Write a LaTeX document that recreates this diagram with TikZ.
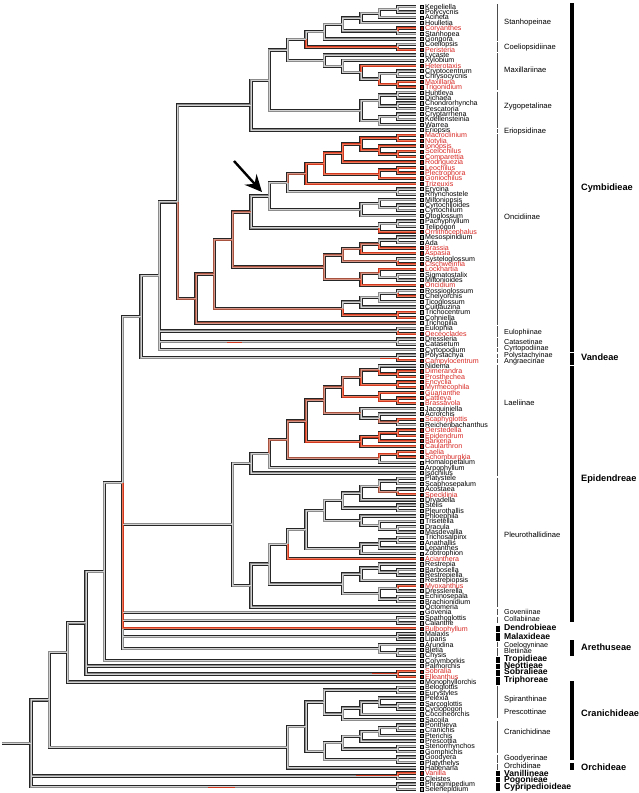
\documentclass[tikz,border=0pt]{standalone}
\usepackage{fontspec}
\setmainfont{Liberation Sans}
\usetikzlibrary{calc,arrows.meta}
\definecolor{cg}{RGB}{140,140,140}
\definecolor{hg}{RGB}{210,210,210}
\definecolor{cr}{RGB}{210,56,30}
\definecolor{hr}{RGB}{240,120,90}
\definecolor{cb}{RGB}{168,82,64}
\definecolor{hb}{RGB}{215,150,135}
\definecolor{txtred}{RGB}{215,40,35}
\definecolor{mkgray}{RGB}{160,160,160}
\definecolor{mkred}{RGB}{150,35,30}
\tikzset{
 outl/.style={line width=3.4pt,draw=black!85},
 inl/.style={line width=2.0pt},
 hil/.style={line width=0.7pt},
 cg/.style={draw=cg}, cr/.style={draw=cr}, cb/.style={draw=cb},
 hg/.style={draw=hg}, hr/.style={draw=hr}, hb/.style={draw=hb},
 mk/.style={draw=black,line width=0.4pt,minimum size=3.2pt,inner sep=0pt,rectangle},
 mkK/.style={mk,fill=mkgray}, mkR/.style={mk,fill=mkred},
 lt/.style={anchor=west,inner sep=0pt,font=\fontsize{7.1}{8}\selectfont,text height=5.1pt,text depth=0pt},
 ltK/.style={lt}, ltR/.style={lt,text=txtred},
 sub/.style={anchor=west,inner sep=0pt,font=\fontsize{7.6}{8}\selectfont,text height=5.4pt,text depth=0pt},
 subs/.style={anchor=west,inner sep=0pt,font=\fontsize{7.2}{8}\selectfont,text height=5.1pt,text depth=0pt},
 subb/.style={anchor=west,inner sep=0pt,font=\bfseries\fontsize{8.6}{9}\selectfont,text height=6.2pt,text depth=0pt},
 trb/.style={anchor=west,inner sep=0pt,font=\bfseries\fontsize{9.2}{10}\selectfont,text height=6.6pt,text depth=0pt},
 thinbar/.style={draw=black!70,line width=0.9pt},
 thickbar/.style={draw=black,line width=3.6pt},
 tribebar/.style={draw=black,line width=4pt},
 arrowst/.style={draw=black,line width=2.4pt,-{Stealth[length=17pt,width=16pt,inset=6pt]}}
}
\newcommand{\lf}[4]{%
 \pgfmathsetmacro{\ly}{6.7+5.36*(#2-1)}%
 \coordinate (#1) at (416,\ly);
 \node[mk#4] (#1m) at (422,\ly) {};
 \node[lt#4] (#1t) at (425,\ly) {#3};}
\newcommand{\nd}[4]{\coordinate (tmpm) at ($(#3)!0.5!(#4)$); \coordinate (#1) at (tmpm -| L#2);}
\newcommand{\brout}[3]{\draw[outl] (#1) |- (#2);}
\newcommand{\brin}[3]{\def\tmpa{#3}\ifx\tmpa\curcol\draw[inl,c#3] (#1) |- (#2);\fi}
\newcommand{\brhi}[3]{\def\tmpa{#3}\ifx\tmpa\curcol\draw[hil,h#3] (#1) |- (#2);\fi}
\newcommand{\branchlist}{%
\br{s1}{keg}{g}\br{s1}{pol}{g}\br{s2}{s1}{g}\br{s2}{aci}{g}\br{s3}{s2}{g}\br{s3}{hou}{g}
\br{cs}{cor}{r}\br{cs}{sta}{g}\br{s4}{s3}{g}\br{s4}{cs}{g}\br{s5}{s4}{g}\br{s5}{gon}{g}
\br{cp}{coe}{g}\br{cp}{per}{r}\br{s6}{s5}{g}\br{s6}{cp}{r}
\br{m1}{crc}{g}\br{m1}{chr}{g}\br{m2}{max}{r}\br{m2}{trg}{r}\br{m3}{m1}{g}\br{m3}{m2}{r}
\br{m4}{het}{r}\br{m4}{m3}{g}\br{m5}{xyl}{g}\br{m5}{m4}{g}\br{m6}{lyc}{g}\br{m6}{m5}{g}
\br{u7}{s6}{g}\br{u7}{m6}{g}
\br{z1}{hun}{g}\br{z1}{dic}{g}\br{z2}{cho}{g}\br{z2}{pes}{g}\br{z3}{z1}{g}\br{z3}{z2}{g}
\br{z4}{cra}{g}\br{z4}{koe}{g}\br{z5}{z4}{g}\br{z5}{war}{g}\br{z6}{z3}{g}\br{z6}{z5}{g}
\br{u8}{u7}{g}\br{u8}{z6}{g}\br{u9}{u8}{g}\br{u9}{eri}{g}
\br{o1}{mac}{r}\br{o1}{not}{r}\br{o2}{sce}{r}\br{o2}{com}{r}\br{o3}{ion}{r}\br{o3}{o2}{r}
\br{o4}{o1}{r}\br{o4}{o3}{r}\br{o5}{o4}{r}\br{o5}{rod}{r}\br{o6}{leo}{r}\br{o6}{ple}{r}
\br{o7}{o6}{r}\br{o7}{gnc}{r}\br{o8}{o5}{r}\br{o8}{o7}{r}\br{o9}{o8}{r}\br{o9}{trz}{r}
\br{o10}{ery}{g}\br{o10}{rhy}{g}\br{o11}{o9}{b}\br{o11}{o10}{g}
\br{o12}{cyd}{g}\br{o12}{cym}{g}\br{o13}{mil}{g}\br{o13}{o12}{g}\br{o14}{o13}{g}\br{o14}{oto}{g}
\br{o15}{o11}{g}\br{o15}{o14}{g}\br{o16}{pac}{g}\br{o16}{tel}{g}\br{o17}{o16}{g}\br{o17}{orn}{r}
\br{o18}{o15}{g}\br{o18}{o17}{g}
\br{o19}{mes}{g}\br{o19}{ada}{g}\br{o20}{o19}{g}\br{o20}{bra}{r}\br{o21}{o20}{b}\br{o21}{asp}{r}
\br{o22}{sys}{g}\br{o22}{cis}{r}\br{o23}{o21}{b}\br{o23}{o22}{b}
\br{o24}{sig}{g}\br{o24}{mln}{g}\br{o25}{loc}{r}\br{o25}{o24}{g}\br{o26}{o25}{b}\br{o26}{onc}{r}
\br{o27}{o23}{b}\br{o27}{o26}{b}\br{o28}{o18}{b}\br{o28}{o27}{b}
\br{o29}{ros}{g}\br{o29}{che}{r}\br{o30}{o29}{g}\br{o30}{tic}{g}\br{o31}{o30}{g}\br{o31}{cui}{g}
\br{o32}{tco}{r}\br{o32}{coh}{r}\br{o33}{o31}{g}\br{o33}{o32}{r}
\br{o34}{o28}{b}\br{o34}{o33}{b}\br{o35}{o34}{b}\br{o35}{tpl}{b}
\br{cy13}{u9}{g}\br{cy13}{o35}{b}
\br{eu}{eul}{g}\br{eu}{oec}{r}\br{ct}{drs}{g}\br{ct}{cat}{g}\br{vd}{pst}{g}\br{vd}{cam}{r}
\br{cv}{cy13}{g}\br{cv}{eu}{g}\br{cv}{ct}{g}\br{cv}{cyr}{g}\br{cvv}{cv}{g}\br{cvv}{vd}{g}
\br{adp}{dim}{r}\br{adp}{pro}{r}\br{a2}{nid}{g}\br{a2}{adp}{r}\br{em}{enc}{r}\br{em}{myr}{r}
\br{a3}{a2}{b}\br{a3}{em}{r}\br{cb}{cay}{r}\br{cb}{brv}{r}\br{b2}{gua}{r}\br{b2}{cb}{r}
\br{a4}{a3}{b}\br{a4}{b2}{r}\br{sr}{sca}{r}\br{sr}{rei}{g}\br{c2}{acr}{g}\br{c2}{sr}{b}
\br{c3}{jac}{g}\br{c3}{c2}{g}\br{a5}{a4}{b}\br{a5}{c3}{b}
\br{oe}{oer}{r}\br{oe}{epi}{r}\br{d2}{oe}{r}\br{d2}{bar}{r}\br{d3}{d2}{r}\br{d3}{cau}{r}
\br{a6}{a5}{b}\br{a6}{d3}{r}\br{ls}{lae}{r}\br{ls}{sch}{r}\br{e2}{ls}{r}\br{e2}{hom}{g}
\br{a7}{a6}{b}\br{a7}{e2}{b}\br{a8}{a7}{b}\br{a8}{arp}{g}\br{a9}{a8}{g}\br{a9}{iso}{g}
\br{ps}{pla}{g}\br{ps}{scs}{g}\br{pas}{aco}{g}\br{pas}{spe}{r}\br{p2}{ps}{g}\br{p2}{pas}{b}
\br{p3}{p2}{g}\br{p3}{dry}{g}\br{psp}{ste}{g}\br{psp}{plt}{g}\br{p4}{p3}{g}\br{p4}{psp}{g}
\br{pdm}{dra}{g}\br{pdm}{mas}{g}\br{pt2}{tri}{g}\br{pt2}{pdm}{g}\br{pt3}{phl}{g}\br{pt3}{pt2}{g}
\br{p5}{p4}{g}\br{p5}{pt3}{g}\br{pta}{tsx}{g}\br{pta}{ana}{g}\br{pz2}{pta}{g}\br{pz2}{lep}{g}
\br{pz3}{pz2}{g}\br{pz3}{zoo}{g}\br{p6}{p5}{g}\br{p6}{pz3}{g}\br{p7}{p6}{g}\br{p7}{acn}{r}
\br{prb}{bab}{g}\br{prb}{rpl}{g}\br{q2}{res}{g}\br{q2}{prb}{g}\br{q3}{q2}{g}\br{q3}{rps}{g}
\br{pmd}{myo}{r}\br{pmd}{dre}{g}\br{peb}{ech}{g}\br{peb}{brc}{g}\br{r2}{pmd}{g}\br{r2}{peb}{g}
\br{q4}{q3}{g}\br{q4}{r2}{g}\br{p8}{p7}{g}\br{p8}{q4}{g}\br{p9}{p8}{g}\br{p9}{oct}{g}
\br{ep10}{a9}{g}\br{ep10}{p9}{g}
\br{sc}{spa}{g}\br{sc}{cal}{g}\br{ml}{mal}{g}\br{ml}{lip}{g}\br{bc}{ble}{g}\br{bc}{chy}{g}
\br{ar2}{aru}{g}\br{ar2}{bc}{g}
\br{e16}{cvv}{g}\br{e16}{ep10}{g}\br{e16}{gov}{g}\br{e16}{sc}{g}\br{e16}{ml}{g}\br{e16}{ar2}{g}\br{e16}{bul}{r}
\br{e17}{e16}{g}\br{e17}{cry}{g}\br{sb}{sob}{r}\br{sb}{ell}{r}
\br{e18}{e17}{g}\br{e18}{pal}{g}\br{e18}{sb}{g}\br{e19}{e18}{g}\br{e19}{mon}{g}
\br{be}{bel}{g}\br{be}{eur}{g}\br{sy}{sar}{g}\br{sy}{cyc}{g}\br{x2}{pel}{g}\br{x2}{sy}{g}
\br{x3}{x2}{g}\br{x3}{coc}{g}\br{x4}{x3}{g}\br{x4}{sac}{g}\br{sp5}{be}{g}\br{sp5}{x4}{g}
\br{pc}{pon}{g}\br{pc}{crn}{g}\br{c2p}{pc}{g}\br{c2p}{pte}{g}\br{c3p}{c2p}{g}\br{c3p}{pre}{g}
\br{sg}{stn}{g}\br{sg}{gom}{g}\br{c4p}{c3p}{g}\br{c4p}{sg}{g}\br{gp}{goo}{g}\br{gp}{plh}{g}
\br{c5p}{c4p}{g}\br{c5p}{gp}{g}\br{cr6}{sp5}{g}\br{cr6}{c5p}{g}\br{or7}{cr6}{g}\br{or7}{hab}{g}
\br{e20}{e19}{g}\br{e20}{or7}{g}
\br{vc}{van}{r}\br{vc}{cle}{g}\br{cyp}{phr}{g}\br{cyp}{sel}{g}
\br{root}{e20}{g}\br{root}{vc}{g}\br{root}{cyp}{g}\br{rs}{root}{g}}
\begin{document}
\begin{tikzpicture}[x=1pt,y=-1pt]
\useasboundingbox (0,0) rectangle (638,793);
\foreach \h in {1,...,21} {\coordinate (L\h) at ({416-18.33*\h},0);}
\coordinate (L0s) at (2,0);
% leaves
\lf{keg}{1}{Kegeliella}{K}\lf{pol}{2}{Polycycnis}{K}\lf{aci}{3}{Acineta}{K}\lf{hou}{4}{Houlletia}{K}
\lf{cor}{5}{Coryanthes}{R}\lf{sta}{6}{Stanhopea}{K}\lf{gon}{7}{Gongora}{K}\lf{coe}{8}{Coeliopsis}{K}
\lf{per}{9}{Peristeria}{R}\lf{lyc}{10}{Lycaste}{K}\lf{xyl}{11}{Xylobium}{K}\lf{het}{12}{Heterotaxis}{R}
\lf{crc}{13}{Cryptocentrum}{K}\lf{chr}{14}{Chrysocycnis}{K}\lf{max}{15}{Maxillaria}{R}\lf{trg}{16}{Trigonidium}{R}
\lf{hun}{17}{Huntleya}{K}\lf{dic}{18}{Dichaea}{K}\lf{cho}{19}{Chondrorhyncha}{K}\lf{pes}{20}{Pescatoria}{K}
\lf{cra}{21}{Cryptarrhena}{K}\lf{koe}{22}{Koellensteinia}{K}\lf{war}{23}{Warrea}{K}\lf{eri}{24}{Eriopsis}{K}
\lf{mac}{25}{Macroclinium}{R}\lf{not}{26}{Notylia}{R}\lf{ion}{27}{Ionopsis}{R}\lf{sce}{28}{Scelochilus}{R}
\lf{com}{29}{Comparettia}{R}\lf{rod}{30}{Rodriguezia}{R}\lf{leo}{31}{Leochilus}{R}\lf{ple}{32}{Plectrophora}{R}
\lf{gnc}{33}{Goniochilus}{R}\lf{trz}{34}{Trizeuxis}{R}\lf{ery}{35}{Erycina}{K}\lf{rhy}{36}{Rhynchostele}{K}
\lf{mil}{37}{Miltoniopsis}{K}\lf{cyd}{38}{Cyrtochiloides}{K}\lf{cym}{39}{Cyrtochilum}{K}\lf{oto}{40}{Otoglossum}{K}
\lf{pac}{41}{Pachyphyllum}{K}\lf{tel}{42}{Telipogon}{K}\lf{orn}{43}{Ornithocephalus}{R}\lf{mes}{44}{Mesospinidium}{K}
\lf{ada}{45}{Ada}{K}\lf{bra}{46}{Brassia}{R}\lf{asp}{47}{Aspasia}{R}\lf{sys}{48}{Systeloglossum}{K}
\lf{cis}{49}{Cischweinfia}{R}\lf{loc}{50}{Lockhartia}{R}\lf{sig}{51}{Sigmatostalix}{K}\lf{mln}{52}{Miltonioides}{K}
\lf{onc}{53}{Oncidium}{R}\lf{ros}{54}{Rossioglossum}{K}\lf{che}{55}{Chelyorchis}{K}\lf{tic}{56}{Ticoglossum}{K}
\lf{cui}{57}{Cuitlauzina}{K}\lf{tco}{58}{Trichocentrum}{K}\lf{coh}{59}{Cohniella}{K}\lf{tpl}{60}{Trichopilia}{K}
\lf{eul}{61}{Eulophia}{K}\lf{oec}{62}{Oeceoclades}{R}\lf{drs}{63}{Dressleria}{K}\lf{cat}{64}{Catasetum}{K}
\lf{cyr}{65}{Cyrtopodium}{K}\lf{pst}{66}{Polystachya}{K}\lf{cam}{67}{Campylocentrum}{R}\lf{nid}{68}{Nidema}{K}
\lf{dim}{69}{Dimerandra}{R}\lf{pro}{70}{Prosthechea}{R}\lf{enc}{71}{Encyclia}{R}\lf{myr}{72}{Myrmecophila}{R}
\lf{gua}{73}{Guarianthe}{R}\lf{cay}{74}{Cattleya}{R}\lf{brv}{75}{Brassavola}{R}\lf{jac}{76}{Jacquiniella}{K}
\lf{acr}{77}{Acrorchis}{K}\lf{sca}{78}{Scaphyglottis}{R}\lf{rei}{79}{Reichenbachanthus}{K}\lf{oer}{80}{Oerstedella}{R}
\lf{epi}{81}{Epidendrum}{R}\lf{bar}{82}{Barkeria}{R}\lf{cau}{83}{Caularthron}{R}\lf{lae}{84}{Laelia}{R}
\lf{sch}{85}{Schomburgkia}{R}\lf{hom}{86}{Homalopetalum}{K}\lf{arp}{87}{Arpophyllum}{K}\lf{iso}{88}{Isochilus}{K}
\lf{pla}{89}{Platystele}{K}\lf{scs}{90}{Scaphosepalum}{K}\lf{aco}{91}{Acostaea}{K}\lf{spe}{92}{Specklinia}{R}
\lf{dry}{93}{Dryadella}{K}\lf{ste}{94}{Stelis}{K}\lf{plt}{95}{Pleurothallis}{K}\lf{phl}{96}{Phloephila}{K}
\lf{tri}{97}{Trisetella}{K}\lf{dra}{98}{Dracula}{K}\lf{mas}{99}{Masdevallia}{K}\lf{tsx}{100}{Trichosalpinx}{K}
\lf{ana}{101}{Anathallis}{K}\lf{lep}{102}{Lepanthes}{K}\lf{zoo}{103}{Zootrophion}{K}\lf{acn}{104}{Acianthera}{R}
\lf{res}{105}{Restrepia}{K}\lf{bab}{106}{Barbosella}{K}\lf{rpl}{107}{Restrepiella}{K}\lf{rps}{108}{Restrepiopsis}{K}
\lf{myo}{109}{Myoxanthus}{R}\lf{dre}{110}{Dresslerella}{K}\lf{ech}{111}{Echinosepala}{K}\lf{brc}{112}{Brachionidium}{K}
\lf{oct}{113}{Octomeria}{K}\lf{gov}{114}{Govenia}{K}\lf{spa}{115}{Spathoglottis}{K}\lf{cal}{116}{Calanthe}{K}
\lf{bul}{117}{Bulbophyllum}{R}\lf{mal}{118}{Malaxis}{K}\lf{lip}{119}{Liparis}{K}\lf{aru}{120}{Arundina}{K}
\lf{ble}{121}{Bletia}{K}\lf{chy}{122}{Chysis}{K}\lf{cry}{123}{Corymborkis}{K}\lf{pal}{124}{Palmorchis}{K}
\lf{sob}{125}{Sobralia}{R}\lf{ell}{126}{Elleanthus}{R}\lf{mon}{127}{Monophyllorchis}{K}\lf{bel}{128}{Beloglottis}{K}
\lf{eur}{129}{Eurystyles}{K}\lf{pel}{130}{Pelexia}{K}\lf{sar}{131}{Sarcoglottis}{K}\lf{cyc}{132}{Cyclopogon}{K}
\lf{coc}{133}{Coccineorchis}{K}\lf{sac}{134}{Sacoila}{K}\lf{pon}{135}{Ponthieva}{K}\lf{crn}{136}{Cranichis}{K}
\lf{pte}{137}{Pterichis}{K}\lf{pre}{138}{Prescottia}{K}\lf{stn}{139}{Stenorrhynchos}{K}\lf{gom}{140}{Gomphichis}{K}
\lf{goo}{141}{Goodyera}{K}\lf{plh}{142}{Platythelys}{K}\lf{hab}{143}{Habenaria}{K}\lf{van}{144}{Vanilla}{R}
\lf{cle}{145}{Cleistes}{K}\lf{phr}{146}{Phragmipedium}{K}\lf{sel}{147}{Selenepidium}{K}
% internal nodes
\nd{s1}{1}{keg}{pol}\nd{s2}{2}{s1}{aci}\nd{s3}{3}{s2}{hou}\nd{cs}{1}{cor}{sta}\nd{s4}{4}{s3}{cs}
\nd{s5}{5}{s4}{gon}\nd{cp}{1}{coe}{per}\nd{s6}{6}{s5}{cp}
\nd{m1}{1}{crc}{chr}\nd{m2}{1}{max}{trg}\nd{m3}{2}{m1}{m2}\nd{m4}{3}{het}{m3}\nd{m5}{4}{xyl}{m4}\nd{m6}{5}{lyc}{m5}
\nd{u7}{7}{s6}{m6}
\nd{z1}{1}{hun}{dic}\nd{z2}{1}{cho}{pes}\nd{z3}{2}{z1}{z2}\nd{z4}{1}{cra}{koe}\nd{z5}{2}{z4}{war}\nd{z6}{3}{z3}{z5}
\nd{u8}{8}{u7}{z6}\nd{u9}{9}{u8}{eri}
\nd{o1}{1}{mac}{not}\nd{o2}{1}{sce}{com}\nd{o3}{2}{ion}{o2}\nd{o4}{3}{o1}{o3}\nd{o5}{4}{o4}{rod}
\nd{o6}{1}{leo}{ple}\nd{o7}{2}{o6}{gnc}\nd{o8}{5}{o5}{o7}\nd{o9}{6}{o8}{trz}\nd{o10}{1}{ery}{rhy}\nd{o11}{7}{o9}{o10}
\nd{o12}{1}{cyd}{cym}\nd{o13}{2}{mil}{o12}\nd{o14}{3}{o13}{oto}\nd{o15}{8}{o11}{o14}
\nd{o16}{1}{pac}{tel}\nd{o17}{2}{o16}{orn}\nd{o18}{9}{o15}{o17}
\nd{o19}{1}{mes}{ada}\nd{o20}{2}{o19}{bra}\nd{o21}{3}{o20}{asp}\nd{o22}{1}{sys}{cis}\nd{o23}{4}{o21}{o22}
\nd{o24}{1}{sig}{mln}\nd{o25}{2}{loc}{o24}\nd{o26}{3}{o25}{onc}\nd{o27}{5}{o23}{o26}\nd{o28}{10}{o18}{o27}
\nd{o29}{1}{ros}{che}\nd{o30}{2}{o29}{tic}\nd{o31}{3}{o30}{cui}\nd{o32}{1}{tco}{coh}\nd{o33}{4}{o31}{o32}
\nd{o34}{11}{o28}{o33}\nd{o35}{12}{o34}{tpl}\nd{cy13}{13}{u9}{o35}
\nd{eu}{1}{eul}{oec}\nd{ct}{1}{drs}{cat}\nd{vd}{1}{pst}{cam}\nd{cv}{14}{cy13}{cyr}\nd{cvv}{15}{cv}{vd}
\nd{adp}{1}{dim}{pro}\nd{a2}{2}{nid}{adp}\nd{em}{1}{enc}{myr}\nd{a3}{3}{a2}{em}\nd{cb}{1}{cay}{brv}
\nd{b2}{2}{gua}{cb}\nd{a4}{4}{a3}{b2}\nd{sr}{1}{sca}{rei}\nd{c2}{2}{acr}{sr}\nd{c3}{3}{jac}{c2}
\nd{a5}{5}{a4}{c3}\nd{oe}{1}{oer}{epi}\nd{d2}{2}{oe}{bar}\nd{d3}{3}{d2}{cau}\nd{a6}{6}{a5}{d3}
\nd{ls}{1}{lae}{sch}\nd{e2}{2}{ls}{hom}\nd{a7}{7}{a6}{e2}\nd{a8}{8}{a7}{arp}\nd{a9}{9}{a8}{iso}
\nd{ps}{1}{pla}{scs}\nd{pas}{1}{aco}{spe}\nd{p2}{2}{ps}{pas}\nd{p3}{3}{p2}{dry}\nd{psp}{1}{ste}{plt}
\nd{p4}{4}{p3}{psp}\nd{pdm}{1}{dra}{mas}\nd{pt2}{2}{tri}{pdm}\nd{pt3}{3}{phl}{pt2}\nd{p5}{5}{p4}{pt3}
\nd{pta}{1}{tsx}{ana}\nd{pz2}{2}{pta}{lep}\nd{pz3}{3}{pz2}{zoo}\nd{p6}{6}{p5}{pz3}\nd{p7}{7}{p6}{acn}
\nd{prb}{1}{bab}{rpl}\nd{q2}{2}{res}{prb}\nd{q3}{3}{q2}{rps}\nd{pmd}{1}{myo}{dre}\nd{peb}{1}{ech}{brc}
\nd{r2}{2}{pmd}{peb}\nd{q4}{4}{q3}{r2}\nd{p8}{8}{p7}{q4}\nd{p9}{9}{p8}{oct}\nd{ep10}{10}{a9}{p9}
\nd{sc}{1}{spa}{cal}\nd{ml}{1}{mal}{lip}\nd{bc}{1}{ble}{chy}\nd{ar2}{2}{aru}{bc}
\nd{e16}{16}{cvv}{ar2}\nd{e17}{17}{e16}{cry}\nd{sb}{1}{sob}{ell}\nd{e18}{18}{e17}{sb}\nd{e19}{19}{e18}{mon}
\nd{be}{1}{bel}{eur}\nd{sy}{1}{sar}{cyc}\nd{x2}{2}{pel}{sy}\nd{x3}{3}{x2}{coc}\nd{x4}{4}{x3}{sac}
\nd{sp5}{5}{be}{x4}\nd{pc}{1}{pon}{crn}\nd{c2p}{2}{pc}{pte}\nd{c3p}{3}{c2p}{pre}\nd{sg}{1}{stn}{gom}
\nd{c4p}{4}{c3p}{sg}\nd{gp}{1}{goo}{plh}\nd{c5p}{5}{c4p}{gp}\nd{cr6}{6}{sp5}{c5p}\nd{or7}{7}{cr6}{hab}
\nd{e20}{20}{e19}{or7}\nd{vc}{1}{van}{cle}\nd{cyp}{1}{phr}{sel}\nd{root}{21}{e20}{cyp}
\coordinate (rs) at (root -| L0s);
% branches: outline, fill, highlight
\let\br\brout \branchlist
\let\br\brin
\def\curcol{g}\branchlist \def\curcol{b}\branchlist \def\curcol{r}\branchlist
\draw[inl,cr] ([xshift=-26pt]sb) -- (sb);
\draw[inl,cr] ([xshift=-42pt]vc) -- (vc);
\draw[inl,cr] ([xshift=-18pt]vd) -- (vd);
\draw[inl,cr] ([xshift=-171pt]ct) -- ([xshift=-156pt]ct);
\draw[inl,cr] ([xshift=-190pt]cyp) -- ([xshift=-163pt]cyp);
\let\br\brhi
\def\curcol{g}\branchlist \def\curcol{b}\branchlist \def\curcol{r}\branchlist
% arrow
\coordinate (arS) at (234,161);
\coordinate (arE) at (262,192);
\draw[arrowst] (arS) -- (arE);
% subtribe bars
\foreach \a/\b in {4/40.5,42.3/51.5,53/90,91.5/127.5,129/132.5,134/325,326/336.5,338/346.5,348/352,353.5/357.5,359/363,364.5/476,477.5/606.5,609/615,616.5/623,642/647,648/656,686/718,721/753,754.5/762.5,764/769.5}
 {\draw[thinbar] (497.5,\a) -- (497.5,\b);}
\foreach \a/\b in {625.5/631.5,633/640.5,657/662.5,663.5/668.5,669.5/675.5,677/685,770.5/776,777/781.5,782.5/791}
 {\draw[thickbar] (498,\a) -- (498,\b);}
\foreach \a/\b in {3/351.5,352.5/364.5,366/622,640/656,681/759.5,763/769.5}
 {\draw[tribebar] (572,\a) -- (572,\b);}
% subtribe labels
\node[sub] (lb1) at (504,22) {Stanhopeinae};
\node[sub] (lb2) at (504,46.5) {Coeliopsidiinae};
\node[sub] (lb3) at (504,70) {Maxillariinae};
\node[sub] (lb4) at (504,105.3) {Zygopetalinae};
\node[sub] (lb5) at (504,130.7) {Eriopsidinae};
\node[sub] (lb6) at (504,216.7) {Oncidiinae};
\node[subs] (lb7) at (504,331.8) {Eulophiinae};
\node[subs] (lb8) at (504,341.7) {Catasetinae};
\node[subs] (lb9) at (504,348.4) {Cyrtopodiinae};
\node[subs] (lb10) at (504,354.7) {Polystachyinae};
\node[subs] (lb11) at (504,360.6) {Angraecinae};
\node[sub] (lb12) at (504,403) {Laeliinae};
\node[sub] (lb13) at (504,535) {Pleurothallidinae};
\node[subs] (lb14) at (504,612.3) {Goveniinae};
\node[subs] (lb15) at (504,618.7) {Collabiinae};
\node[subb] (lb16) at (504,627.8) {Dendrobieae};
\node[subb] (lb17) at (504,636.6) {Malaxideae};
\node[subs] (lb18) at (504,644.7) {Coelogyninae};
\node[subs] (lb19) at (504,650.6) {Bletiinae};
\node[subb] (lb20) at (504,658.4) {Tropidieae};
\node[subb] (lb21) at (504,665) {Neottieae};
\node[subb] (lb22) at (504,671.6) {Sobralieae};
\node[subb] (lb23) at (504,679.2) {Triphoreae};
\node[sub] (lb24) at (504,698.7) {Spiranthinae};
\node[sub] (lb25) at (504,711.7) {Prescottinae};
\node[sub] (lb26) at (504,732) {Cranichidinae};
\node[sub] (lb27) at (504,757.7) {Goodyerinae};
\node[sub] (lb28) at (504,766) {Orchidinae};
\node[subb] (lb29) at (504,773.3) {Vanillineae};
\node[subb] (lb30) at (504,779.7) {Pogonieae};
\node[subb] (lb31) at (504,786.6) {Cypripedioideae};
% tribe labels
\node[trb] (tr1) at (581,187) {Cymbidieae};
\node[trb] (tr2) at (581,357) {Vandeae};
\node[trb] (tr3) at (581,478) {Epidendreae};
\node[trb] (tr4) at (581,647.5) {Arethuseae};
\node[trb] (tr5) at (581,713.5) {Cranichideae};
\node[trb] (tr6) at (581,767) {Orchideae};
\end{tikzpicture}
\end{document}
